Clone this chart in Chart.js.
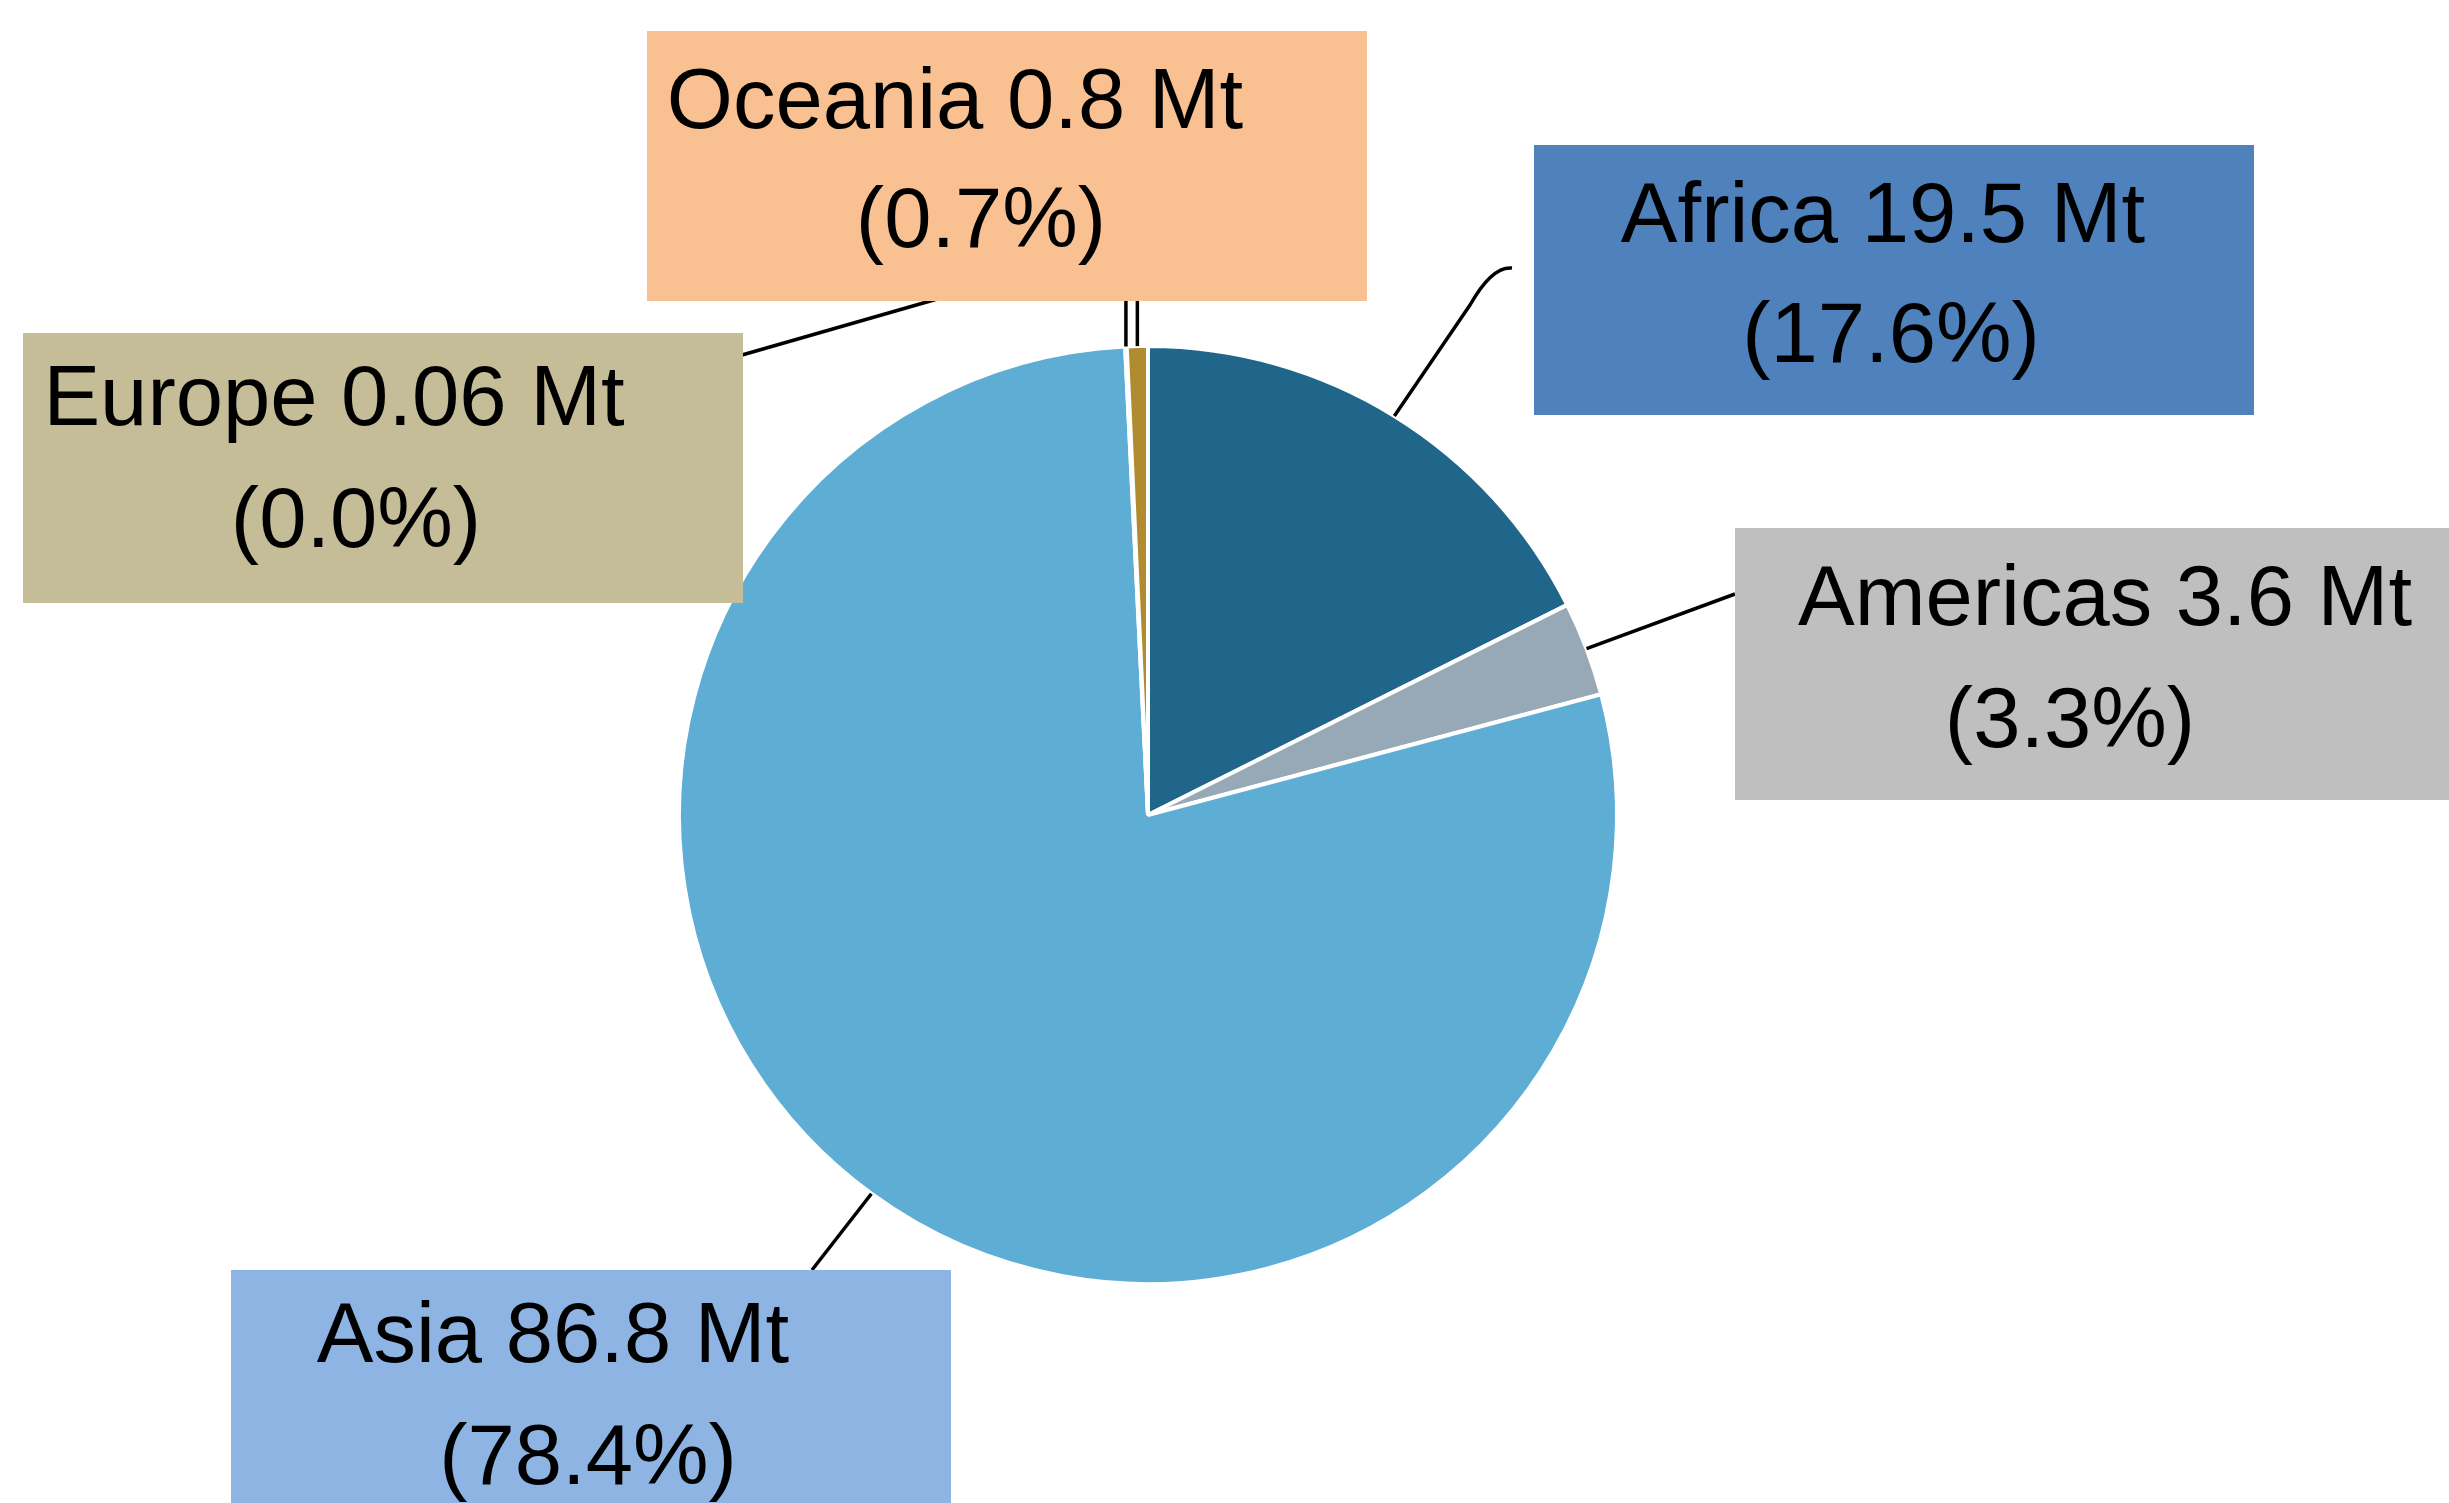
<!DOCTYPE html>
<html>
<head>
<meta charset="utf-8">
<script src="https://cdn.jsdelivr.net/npm/chart.js@4.4.1/dist/chart.umd.min.js"></script>
<style>
  html, body { margin: 0; padding: 0; background: #fff; overflow: hidden; }
</style>
</head>
<body>
<canvas id="chart" width="2449" height="1503"></canvas>
<script>
// Data (Mt per region, shares as printed)
const regions = ['Africa', 'Americas', 'Asia', 'Europe', 'Oceania'];
const tonnes = [19.5, 3.6, 86.8, 0.06, 0.8];
const shareLabels = ['17.6', '3.3', '78.4', '0.0', '0.7'];

// Colours
const sliceColors = ['#20668A', '#97A9B6', '#5EADD5', '#E6DDA8', '#B18B2F'];
const boxColors = ['#4F81BD', '#BFBFBF', '#8EB4E3', '#C4BD97', '#F9C091'];

// Label boxes: [x, y, w, h], line centre/baseline, leader path after the slice edge point
const labelLayout = [
    { box: [1534, 145, 720, 270], l1: [1883, 242], l2: [1891, 362], path: [[1470, 305]], curveTo: [[1492, 266], [1512, 268]] },
    { box: [1735, 528, 720, 272], l1: [2105, 625], l2: [2070, 747], path: [[1735, 594]] },
    { box: [231, 1270, 720, 280], l1: [553, 1362], l2: [588, 1484], path: [[812, 1270]] },
    { box: [23, 333, 720, 270], l1: [334, 425], l2: [356, 547], path: [['up', 250], [1000, 281], [742, 355]] },
    { box: [647, 31, 720, 270], l1: [955, 128], l2: [981, 247], path: [['up', 250]] }
];

const calloutPlugin = {
    id: 'callouts',
    afterDatasetsDraw(chart) {
        const ctx = chart.ctx;
        const arcs = chart.getDatasetMeta(0).data;

        // leader lines first, boxes drawn over them
        ctx.save();
        ctx.strokeStyle = '#000';
        ctx.lineWidth = 3.5;
        ctx.lineJoin = 'round';
        arcs.forEach((arc, i) => {
            const p = arc.getProps(['x', 'y', 'startAngle', 'endAngle', 'outerRadius'], true);
            const mid = (p.startAngle + p.endAngle) / 2;
            const sx = p.x + Math.cos(mid) * p.outerRadius;
            const sy = p.y + Math.sin(mid) * p.outerRadius;
            const lay = labelLayout[i];
            ctx.beginPath();
            ctx.moveTo(sx, sy);
            lay.path.forEach(pt => {
                if (pt[0] === 'up') ctx.lineTo(sx, pt[1]);
                else ctx.lineTo(pt[0], pt[1]);
            });
            if (lay.curveTo) {
                ctx.quadraticCurveTo(lay.curveTo[0][0], lay.curveTo[0][1], lay.curveTo[1][0], lay.curveTo[1][1]);
            }
            ctx.stroke();
        });

        ctx.font = '85px "Liberation Sans", Arial, sans-serif';
        ctx.textAlign = 'center';
        ctx.textBaseline = 'alphabetic';
        labelLayout.forEach((lay, i) => {
            const [bx, by, bw, bh] = lay.box;
            ctx.fillStyle = boxColors[i];
            ctx.fillRect(bx, by, bw, bh);
            ctx.fillStyle = '#000';
            ctx.fillText(regions[i] + ' ' + tonnes[i] + ' Mt', lay.l1[0], lay.l1[1]);
            ctx.fillText('(' + shareLabels[i] + '%)', lay.l2[0], lay.l2[1]);
        });
        ctx.restore();
    }
};

new Chart(document.getElementById('chart'), {
    type: 'pie',
    data: {
        labels: regions,
        datasets: [{
            data: tonnes,
            backgroundColor: sliceColors,
            borderColor: '#FFFFFF',
            borderWidth: 4
        }]
    },
    options: {
        responsive: false,
        devicePixelRatio: 1,
        animation: false,
        radius: 469,
        layout: { padding: { top: 127, right: 153, left: 0, bottom: 0 } },
        plugins: {
            legend: { display: false },
            tooltip: { enabled: false }
        }
    },
    plugins: [calloutPlugin]
});
</script>
</body>
</html>
